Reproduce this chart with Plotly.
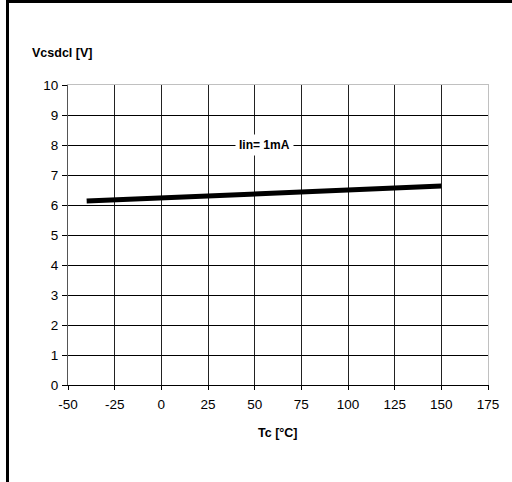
import plotly.graph_objects as go

# Clamp voltage vs. case temperature at Iin = 1 mA
tc_values = [-40, 150]
vcsdcl_values = [6.13, 6.63]

x_ticks = [-50, -25, 0, 25, 50, 75, 100, 125, 150, 175]
y_ticks = list(range(0, 11))

font = "Liberation Sans, Arial, sans-serif"

fig = go.Figure()
fig.add_trace(go.Scatter(
    x=tc_values, y=vcsdcl_values, mode="lines",
    line=dict(color="black", width=5), showlegend=False, hoverinfo="skip",
))
# helper trace so the top/right frame axes are rendered
fig.add_trace(go.Scatter(
    x=[None], y=[None], xaxis="x2", yaxis="y2", showlegend=False, hoverinfo="skip",
))

fig.update_layout(
    width=512, height=482,
    margin=dict(l=68, r=24, t=85, b=97),
    paper_bgcolor="white", plot_bgcolor="white",
    font=dict(family=font, size=13, color="black"),
    xaxis=dict(
        range=[-50, 175], tickvals=x_ticks, ticktext=[str(v) for v in x_ticks],
        showgrid=True, gridcolor="#222222", gridwidth=1,
        showline=True, linecolor="black", linewidth=1,
        ticks="outside", ticklen=4, tickcolor="black", zeroline=False,
        tickfont=dict(size=13.5, color="black"), ticklabelstandoff=3,
    ),
    yaxis=dict(
        range=[0, 10], tickvals=y_ticks,
        showgrid=True, gridcolor="black", gridwidth=1,
        showline=True, linecolor="#555555", linewidth=1,
        ticks="outside", ticklen=5, tickcolor="black", zeroline=False,
        tickfont=dict(size=13.5, color="black"), ticklabelstandoff=1,
    ),
    xaxis2=dict(
        overlaying="x", side="top", range=[-50, 175], showgrid=False,
        showline=True, linecolor="#c0c0c0", linewidth=1,
        showticklabels=False, ticks="", zeroline=False,
    ),
    yaxis2=dict(
        overlaying="y", side="right", range=[0, 10], showgrid=False,
        showline=True, linecolor="#c0c0c0", linewidth=1,
        showticklabels=False, ticks="", zeroline=False,
    ),
    annotations=[
        dict(text="<b>Iin= 1mA</b>", x=55.5, y=8, xref="x", yref="y",
             showarrow=False, bgcolor="white", borderpad=3,
             font=dict(family=font, size=12, color="black")),
        dict(text="<b>Vcsdcl [V]</b>", x=(30 - 68) / 420, y=(385 - 53) / 300,
             xref="paper", yref="paper", xanchor="left", yanchor="middle",
             showarrow=False, font=dict(family=font, size=12.5, color="black")),
        dict(text="<b>Tc [°C]</b>", x=(277 - 68) / 420, y=(385 - 433) / 300,
             xref="paper", yref="paper", xanchor="center", yanchor="middle",
             showarrow=False, font=dict(family=font, size=12.5, color="black")),
    ],
    shapes=[
        # outer frame: top and left edges
        dict(type="line", xref="paper", yref="paper",
             x0=(6 - 68) / 420, x1=(512 - 68) / 420,
             y0=(385 - 1.5) / 300, y1=(385 - 1.5) / 300,
             line=dict(color="black", width=3)),
        dict(type="line", xref="paper", yref="paper",
             x0=(7.5 - 68) / 420, x1=(7.5 - 68) / 420,
             y0=(385 - 0) / 300, y1=(385 - 482) / 300,
             line=dict(color="black", width=3)),
    ],
)

fig.write_html("out.html")
